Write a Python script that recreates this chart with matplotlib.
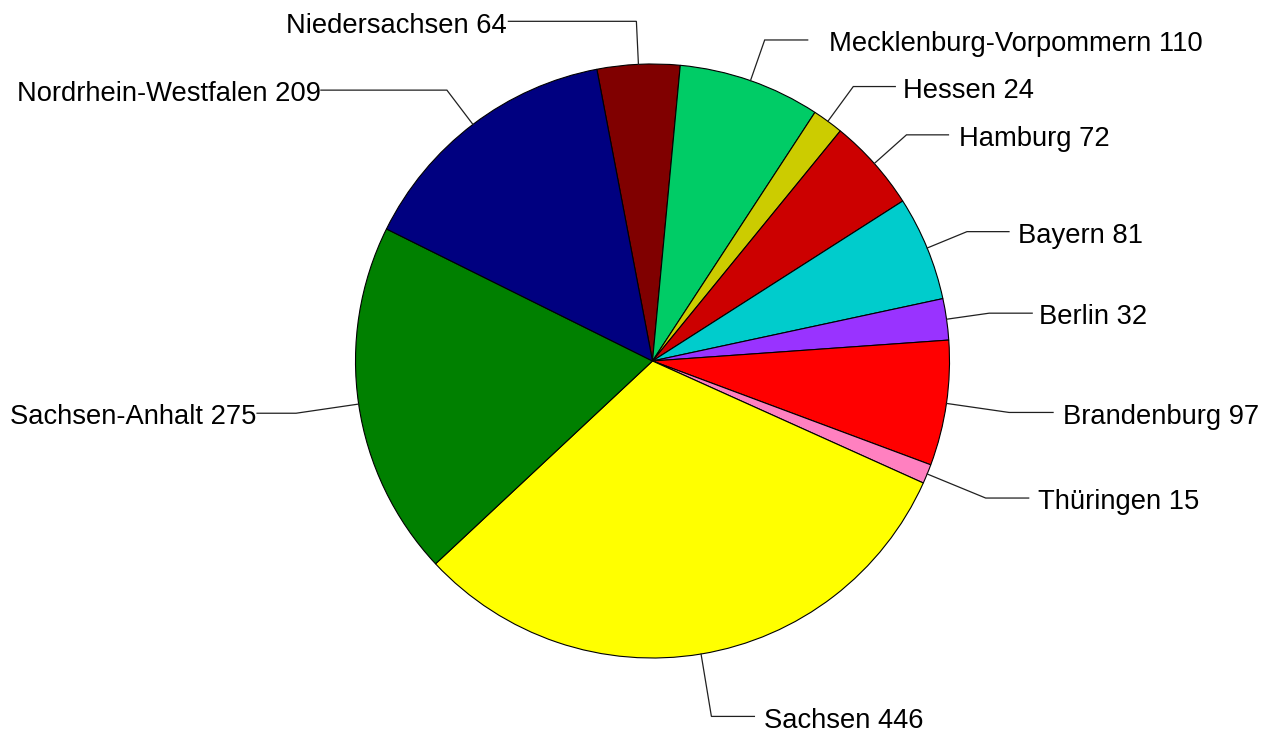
import matplotlib
matplotlib.use('Agg')
import matplotlib.pyplot as plt
import numpy as np

plt.rcParams['font.family'] = ['Liberation Sans', 'DejaVu Sans']

# data, clockwise from the top
labels = ['Niedersachsen', 'Mecklenburg-Vorpommern', 'Hessen', 'Hamburg', 'Bayern',
          'Berlin', 'Brandenburg', 'Thüringen', 'Sachsen', 'Sachsen-Anhalt',
          'Nordrhein-Westfalen']
values = [64, 110, 24, 72, 81, 32, 97, 15, 446, 275, 209]
colors = ['#800000', '#00CC66', '#CCCC00', '#CC0000', '#00CCCC', '#9933FF',
          '#FF0000', '#FF80C0', '#FFFF00', '#008000', '#000080']

# leader line layout (pixels): horizontal length and gap to text
hlen = [128, 43, 42, 42, 42, 43, 44, 43, 43, 39, 126]
gaps = [2, 21, 8, 11, 9, 7, 10, 9, 10, 1, 0]

W, H = 1272, 732
cx, cy, r = 652.5, H - 361, 297
start = 100.8

fig = plt.figure(figsize=(W / 100, H / 100), dpi=100)
ax = fig.add_axes([0, 0, 1, 1])
wedges, _ = ax.pie(values, colors=colors, startangle=start, counterclock=False,
                   center=(cx, cy), radius=r,
                   wedgeprops=dict(edgecolor='black', linewidth=0.8))

total = float(sum(values))
cum = 0.0
for i, v in enumerate(values):
    mid = np.deg2rad(start - (cum + v / 2) / total * 360)
    cum += v
    ca, sa = np.cos(mid), np.sin(mid)
    k = 1.145 if sa > 0 else 1.213
    x0, y0 = cx + r * ca, cy + r * sa
    x1, y1 = cx + k * r * ca, cy + k * r * sa
    side = 1 if ca > 0 else -1
    x2 = x1 + side * hlen[i]
    ax.plot([x0, x1, x2], [y0, y1, y1], color='#202020', lw=0.9,
            solid_joinstyle='miter')
    ax.text(x2 + side * gaps[i], y1 - 11.2, f'{labels[i]} {values[i]}',
            ha='left' if side > 0 else 'right', va='baseline',
            fontsize=19.7, color='black')

ax.set_xlim(0, W)
ax.set_ylim(0, H)
ax.set_aspect('equal')
ax.axis('off')
fig.savefig('out.png', dpi=100, facecolor='white')
